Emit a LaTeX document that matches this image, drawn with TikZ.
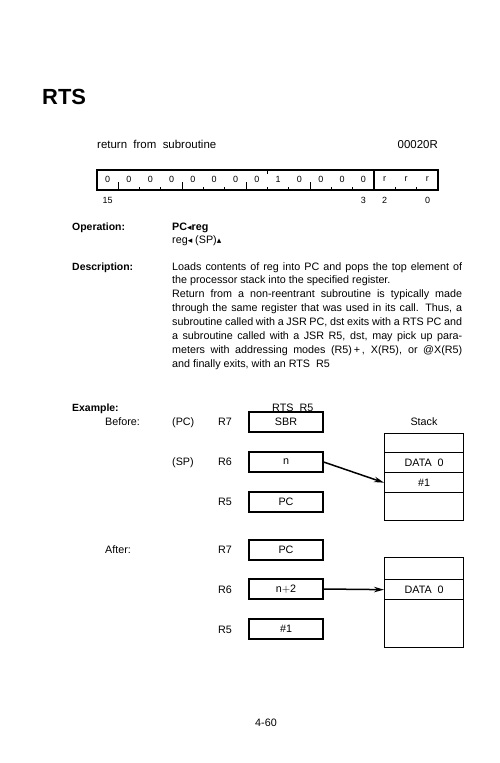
\documentclass[tikz,border=0pt]{standalone}
\usepackage{fontspec}
\setmainfont{Liberation Sans}
\newfontfamily\symfont{DejaVu Sans}
\usetikzlibrary{positioning,arrows.meta}

\tikzset{
  txt/.style={inner sep=0pt, anchor=base west, font=\fontsize{10.8}{14}\selectfont},
  lbl/.style={txt, font=\fontsize{10.5}{14}\selectfont\bfseries},
  regbox/.style={draw, line width=1.3bp, minimum width=74bp, minimum height=20bp, inner sep=0pt, font=\fontsize{10.8}{12}\selectfont},
  cell/.style={draw, line width=1.3bp, minimum width=79bp, inner sep=0pt, anchor=north west, font=\fontsize{10.8}{12}\selectfont},
  bit/.style={inner sep=0pt, font=\fontsize{9}{10}\selectfont},
  ptr/.style={line width=1.5bp, -{Stealth[length=10bp,width=5.5bp]}},
}

\begin{document}
\begin{tikzpicture}[x=1bp,y=-1bp]
  \useasboundingbox (0,0) rectangle (500,763);

  % heading
  \node[txt, font=\fontsize{22}{26}\selectfont\bfseries] (title) at (42,104) {RTS};
  \node[txt, font=\fontsize{11.5}{13}\selectfont] (name) at (97,148) {return\ \ from\ \ subroutine};
  \node[txt, anchor=base east, font=\fontsize{11.5}{13}\selectfont] (code) at (438,148) {00020R};

  % instruction word
  \draw[line width=1.3bp] (97,170) rectangle (438,190);
  \draw[line width=1.3bp] ({97+13*21.3125},170) -- ++(0,20);
  \draw[line width=1bp] ({97+8*21.3125},170) -- ++(0,4);
  \foreach \i in {1,4,7,10}
    \draw[line width=1.2bp] ({97+\i*21.3125},190) -- ++(0,-8);
  \foreach \i in {2,3,5,6,8,9,11,12,14,15}
    \draw[line width=1bp] ({97+\i*21.3125},190) -- ++(0,-3);
  \foreach \v [count=\i from 0] in {0,0,0,0,0,0,0,0,1,0,0,0,0,r,r,r}
    \node[bit] (b\i) at ({97+(\i+0.5)*21.3125},179) {\v};
  \node[bit, anchor=base] (n15) at (107.7,203) {15};
  \node[bit, anchor=base] (n3) at (363.4,203) {3};
  \node[bit, anchor=base] (n2) at (384.7,203) {2};
  \node[bit, anchor=base] (n0) at (427.5,203) {0};

  % operation
  \node[lbl] (oplbl) at (72,230) {Operation:};
  \node[txt, font=\fontsize{10.8}{14}\selectfont\bfseries] (op1) at (172,230) {PC{\symfont\small◂}reg};
  \node[txt] (op2) at (172,243) {reg{\symfont\small◂} (SP){\symfont\small▴}};

  % description
  \node[lbl] (desclbl) at (72,270) {Description:};
  \node[txt, text width=290bp, align=justify] (desc) at (172,270)
    {\hyphenpenalty=10000\tolerance=10000
     Loads contents of reg into PC and pops the top element of\linebreak
     the processor stack into the specified register.\\
     Return from a non-reentrant subroutine is typically made\linebreak
     through the same register that was used in its call. Thus, a\linebreak
     subroutine called with a JSR PC, dst exits with a RTS PC and\linebreak
     a subroutine called with a JSR R5, dst, may pick up para-\linebreak
     meters with addressing modes (R5)\,+\,, X(R5), or @X(R5)\linebreak
     and finally exits, with an RTS\ \ R5};

  % example
  \node[lbl] (exlbl) at (72,411) {Example:};
  \node[txt] (excode) at (272,411) {RTS\ \ R5};

  % before
  \node[txt] (before) at (105,425) {Before:};
  \node[txt] (pc) at (172,425) {(PC)};
  \node[txt] (sp) at (172,465) {(SP)};
  \node[txt] (r7a) at (218,425) {R7};
  \node[txt] (r6a) at (218,465) {R6};
  \node[txt] (r5a) at (218,505) {R5};
  \node[regbox] (bx7a) at (286,422) {SBR};
  \node[regbox] (bx6a) at (286,462) {n};
  \node[regbox] (bx5a) at (286,502) {PC};

  \node[txt, anchor=base] (stk) at (424,425) {Stack};
  \node[cell, minimum height=19bp] (sa1) at (384,433) {};
  \node[cell, minimum height=20bp] (sa2) at (384,452) {DATA\ \ 0};
  \node[cell, minimum height=20bp] (sa3) at (384,472) {\#1};
  \node[cell, minimum height=28bp] (sa4) at (384,492) {};
  \draw[ptr] (bx6a.east) -- (sa3.west);

  % after
  \node[txt] (after) at (105,553) {After:};
  \node[txt] (r7b) at (218,553) {R7};
  \node[txt] (r6b) at (218,593) {R6};
  \node[txt] (r5b) at (218,633) {R5};
  \node[regbox] (bx7b) at (286,550) {PC};
  \node[regbox] (bx6b) at (286,589) {n$+$2};
  \node[regbox] (bx5b) at (286,629) {\#1};

  \node[cell, minimum height=22bp] (sb1) at (384,557) {};
  \node[cell, minimum height=20bp] (sb2) at (384,579) {DATA\ \ 0};
  \node[cell, minimum height=48bp] (sb3) at (384,599) {};
  \draw[ptr] (bx6b.east) -- (sb2.west);

  % page number
  \node[txt, anchor=base] (page) at (266,726) {4-60};
\end{tikzpicture}
\end{document}
